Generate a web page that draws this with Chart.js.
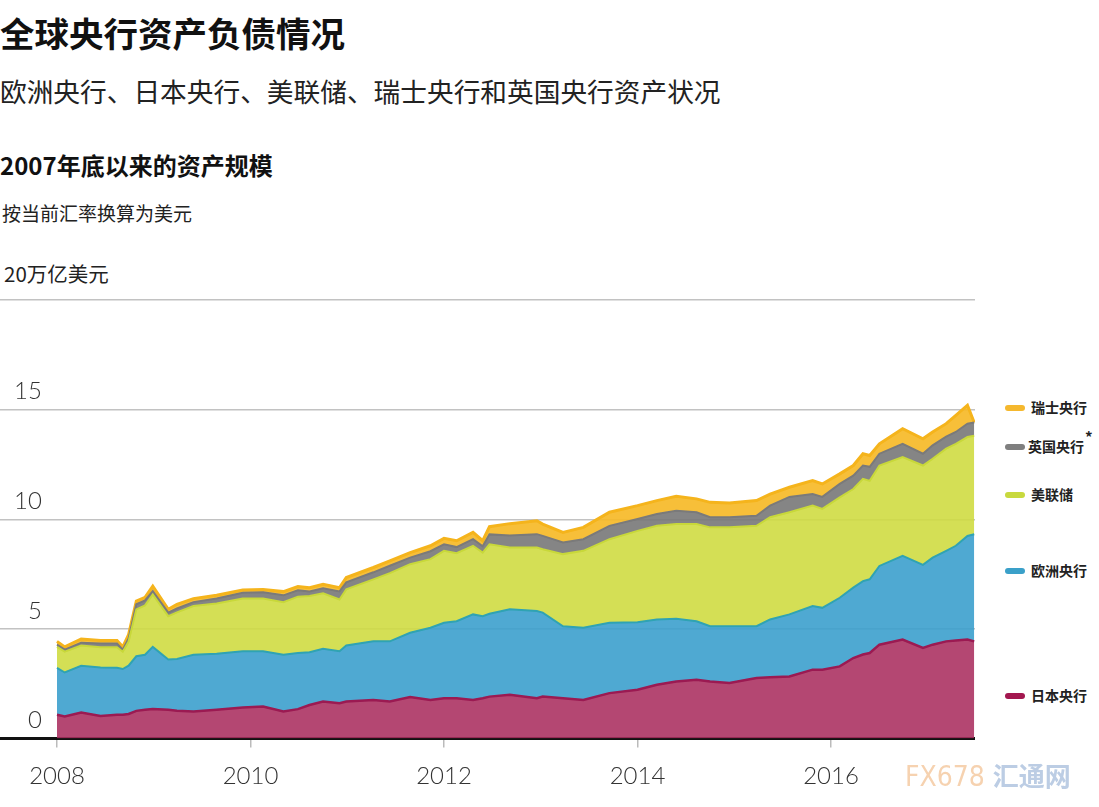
<!DOCTYPE html>
<html>
<head>
<meta charset="utf-8">
<script src="https://cdn.jsdelivr.net/npm/chart.js@4"></script>
<style>
    body { margin: 0; background: #fff; width: 1099px; height: 807px; overflow: hidden; position: relative; font-family: "Noto Sans CJK SC", "Noto Sans", sans-serif; color: #111; }
    .txt { position: absolute; white-space: nowrap; }
    #titulo { left: 0; top: 10px; font-size: 34.5px; font-weight: 700; line-height: 44px; }
    #subtitulo { left: 0; top: 73px; font-size: 26.7px; font-weight: 400; line-height: 36px; color: #222; }
    #secao { left: 0; top: 148px; font-size: 24px; font-weight: 700; line-height: 34px; }
    #nota { left: 2px; top: 200px; font-size: 19px; line-height: 26px; color: #222; }
    #unidade { left: 4px; top: 259px; font-size: 20.5px; line-height: 28px; color: #222; }
    #grafico-box { position: absolute; left: 0; top: 250px; width: 975px; height: 557px; }
    .leg { position: absolute; left: 1005px; font-size: 14px; font-weight: 700; color: #222; line-height: 20px; height: 20px; white-space: nowrap; }
    .leg i { display: inline-block; width: 20px; height: 6px; border-radius: 3px; vertical-align: middle; margin-right: 6px; position: relative; top: -1px; }
    .leg sup { font-size: 15px; line-height: 0; position: relative; top: -3px; margin-left: 1px; }
    #marca { position: absolute; left: 905px; top: 756px; font-family: "Liberation Sans Narrow", "DejaVu Sans Condensed", sans-serif; font-size: 28px; color: #f6d2b0; white-space: nowrap; }
    #marca span { color: #bccde4; font-family: "Noto Sans CJK SC"; font-weight: 700; font-size: 26px; }
</style>
</head>
<body>
<div class="txt" id="titulo">全球央行资产负债情况</div>
<div class="txt" id="subtitulo">欧洲央行、日本央行、美联储、瑞士央行和英国央行资产状况</div>
<div class="txt" id="secao">2007年底以来的资产规模</div>
<div class="txt" id="nota">按当前汇率换算为美元</div>
<div class="txt" id="unidade">20万亿美元</div>

<div id="grafico-box"><canvas id="grafico"></canvas></div>

<div class="leg" style="top:397px"><i style="background:#f5b82e"></i>瑞士央行</div>
<div class="leg" style="top:436px"><i style="background:#7f7f7f;margin-right:3px"></i>英国央行<sup>*</sup></div>
<div class="leg" style="top:484px"><i style="background:#c8d93e"></i>美联储</div>
<div class="leg" style="top:560px"><i style="background:#3aa0c9"></i>欧洲央行</div>
<div class="leg" style="top:685px"><i style="background:#a3174f"></i>日本央行</div>

<div id="marca">FX678 <span>汇通网</span></div>

<script>
// anos (decimal) e ativos de cada banco central, em trilhoes de dolares
const anos = [2008.0, 2008.08, 2008.25, 2008.45, 2008.62, 2008.68, 2008.74, 2008.82, 2008.91, 2008.99,
    2009.15, 2009.24, 2009.41, 2009.65, 2009.92,
    2010.13, 2010.34, 2010.49, 2010.61, 2010.75, 2010.92, 2010.99,
    2011.27, 2011.44, 2011.65, 2011.86,
    2012.0, 2012.13, 2012.3, 2012.4, 2012.47, 2012.68, 2012.96,
    2013.02, 2013.23, 2013.44, 2013.71,
    2014.0, 2014.2, 2014.4, 2014.61, 2014.75, 2014.95,
    2015.23, 2015.37, 2015.57, 2015.81, 2015.91,
    2016.09, 2016.23, 2016.33, 2016.4, 2016.5, 2016.74, 2016.95,
    2017.05, 2017.19, 2017.29, 2017.41, 2017.48];

const japao = [1.08, 1.00, 1.18, 1.03, 1.08, 1.08, 1.12, 1.26, 1.31, 1.35,
    1.31, 1.27, 1.23, 1.31, 1.41,
    1.46, 1.23, 1.34, 1.53, 1.69, 1.61, 1.69,
    1.76, 1.69, 1.89, 1.76,
    1.84, 1.84, 1.76, 1.84, 1.91, 1.99, 1.84,
    1.91, 1.84, 1.76, 2.07,
    2.22, 2.45, 2.60, 2.68, 2.60, 2.53,
    2.76, 2.79, 2.83, 3.14, 3.14,
    3.29, 3.67, 3.83, 3.90, 4.28, 4.51, 4.13,
    4.28, 4.43, 4.47, 4.51, 4.43];

const europa = [2.14, 2.01, 2.14, 2.21, 2.15, 2.09, 2.20, 2.49, 2.51, 2.83,
    2.29, 2.36, 2.59, 2.55, 2.57,
    2.52, 2.59, 2.56, 2.40, 2.40, 2.37, 2.55,
    2.67, 2.74, 2.93, 3.29,
    3.44, 3.51, 3.90, 3.74, 3.78, 3.90, 3.97,
    3.83, 3.28, 3.29, 3.21,
    3.08, 2.98, 2.86, 2.67, 2.52, 2.59,
    2.36, 2.64, 2.83, 2.90, 2.82,
    3.13, 3.21, 3.35, 3.36, 3.59, 3.82, 3.79,
    3.97, 4.13, 4.32, 4.73, 4.89];

const fed = [0.96, 0.95, 0.92, 0.92, 0.93, 0.79, 1.10, 2.14, 2.25, 2.39,
    1.98, 2.12, 2.22, 2.30, 2.41,
    2.40, 2.40, 2.57, 2.57, 2.53, 2.36, 2.56,
    2.83, 3.11, 3.13, 3.13,
    3.28, 3.10, 3.13, 2.90, 3.17, 2.82, 2.90,
    2.89, 3.29, 3.51, 3.81,
    4.17, 4.27, 4.32, 4.43, 4.51, 4.51,
    4.58, 4.66, 4.66, 4.58, 4.51,
    4.58, 4.50, 4.66, 4.49, 4.58, 4.51, 4.53,
    4.51, 4.66, 4.65, 4.51, 4.49];

const inglaterra = [0.10, 0.09, 0.13, 0.17, 0.17, 0.09, 0.14, 0.23, 0.23, 0.15,
    0.16, 0.18, 0.18, 0.23, 0.26,
    0.29, 0.31, 0.29, 0.21, 0.23, 0.37, 0.32,
    0.32, 0.34, 0.30, 0.36,
    0.30, 0.28, 0.30, 0.29, 0.45, 0.55, 0.61,
    0.61, 0.53, 0.53, 0.61,
    0.54, 0.54, 0.61, 0.54, 0.46, 0.46,
    0.46, 0.53, 0.70, 0.53, 0.55,
    0.61, 0.61, 0.61, 0.64, 0.54, 0.60, 0.54,
    0.61, 0.55, 0.54, 0.61, 0.60];

const suica = [0.15, 0.13, 0.17, 0.14, 0.14, 0.13, 0.18, 0.15, 0.14, 0.23,
    0.15, 0.19, 0.16, 0.14, 0.12,
    0.13, 0.17, 0.17, 0.17, 0.18, 0.17, 0.22,
    0.22, 0.22, 0.23, 0.25,
    0.27, 0.29, 0.31, 0.25, 0.35, 0.54, 0.61,
    0.54, 0.46, 0.54, 0.62,
    0.61, 0.61, 0.66, 0.61, 0.68, 0.65,
    0.69, 0.53, 0.44, 0.61, 0.59,
    0.46, 0.46, 0.54, 0.52, 0.45, 0.69, 0.68,
    0.61, 0.59, 0.76, 0.84, 0];

const ticksY = [0, 5, 10, 15, 20];
const ticksX = [2008, 2010, 2012, 2014, 2016];

function serie(valores) {
    return anos.map((a, i) => ({ x: a, y: valores[i] }));
}

function camada(nome, valores, linha, fundo, preenche, espessura) {
    return {
        label: nome,
        data: serie(valores),
        borderColor: linha,
        backgroundColor: fundo,
        borderWidth: espessura,
        fill: preenche,
        pointRadius: 0,
        tension: 0
    };
}

const ctx = document.getElementById('grafico').getContext('2d');

let myChart = new Chart(ctx, {
    type: 'line',
    data: {
        datasets: [
            camada('日本央行', japao, '#9b1a52', 'rgba(170,45,95,0.88)', 'origin', 2.5),
            camada('欧洲央行', europa, '#2fa3b3', 'rgba(60,160,205,0.9)', '-1', 2),
            camada('美联储', fed, '#c8d83a', 'rgba(207,220,66,0.9)', '-1', 2),
            camada('英国央行', inglaterra, '#7a7a7a', 'rgba(120,120,120,0.9)', '-1', 2),
            camada('瑞士央行', suica, '#f5b41c', 'rgba(246,186,40,0.92)', '-1', 3)
        ]
    },
    options: {
        responsive: true,
        maintainAspectRatio: false,
        animation: false,
        layout: {
            padding: { left: 0, right: 0, top: 50, bottom: 0 }
        },
        plugins: {
            legend: { display: false },
            tooltip: { enabled: false }
        },
        scales: {
            x: {
                type: 'linear',
                min: 2007.411,
                max: 2017.488,
                afterBuildTicks: (axis) => { axis.ticks = ticksX.map(v => ({ value: v })); },
                afterFit: (axis) => { axis.height = 68.5; },
                border: { display: true, color: '#111', width: 3 },
                grid: { display: true, drawOnChartArea: false, drawTicks: true, tickLength: 9, color: '#bbb', lineWidth: 1.5 },
                ticks: {
                    padding: 14,
                    maxRotation: 0,
                    color: '#333',
                    font: { family: 'Lato', size: 24, weight: '300' },
                    callback: (v) => String(v)
                }
            },
            y: {
                stacked: true,
                min: 0,
                max: 20,
                afterBuildTicks: (axis) => { axis.ticks = ticksY.map(v => ({ value: v })); },
                afterFit: (axis) => { axis.width = 0; },
                border: { display: false },
                grid: { drawTicks: false, color: '#c2c2c2', lineWidth: 1.5 },
                ticks: {
                    mirror: true,
                    crossAlign: 'far',
                    padding: 14,
                    labelOffset: -18,
                    color: '#333',
                    font: { family: 'Lato', size: 24, weight: '300' },
                    callback: (v) => (v === 20 ? '' : String(v))
                }
            }
        }
    }
});
</script>
</body>
</html>
